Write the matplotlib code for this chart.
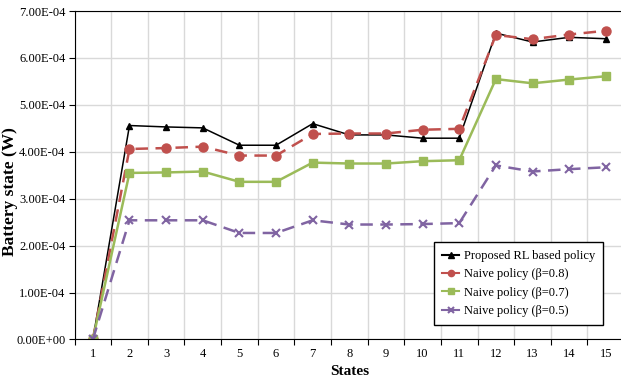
import matplotlib.pyplot as plt
import numpy as np
from matplotlib.ticker import FuncFormatter

plt.rcParams['font.family'] = ['Liberation Serif', 'DejaVu Serif']

states = list(range(1, 16))
rl_policy = [0, 4.56, 4.53, 4.51, 4.14, 4.14, 4.60, 4.36, 4.36, 4.29, 4.29, 6.53, 6.34, 6.44, 6.41]
naive_08 = [0, 4.06, 4.08, 4.11, 3.92, 3.92, 4.38, 4.39, 4.39, 4.47, 4.49, 6.49, 6.40, 6.50, 6.58]
naive_07 = [0, 3.55, 3.56, 3.58, 3.36, 3.36, 3.77, 3.75, 3.75, 3.80, 3.82, 5.55, 5.46, 5.54, 5.61]
naive_05 = [0, 2.54, 2.54, 2.54, 2.27, 2.27, 2.54, 2.45, 2.45, 2.46, 2.48, 3.71, 3.58, 3.63, 3.67]


def sci(v, pos):
    return f"{v:.2E}"


fig = plt.figure(figsize=(6.21, 3.81), dpi=100)
ax = fig.add_axes([0.12, 0.109, 0.885, 0.862])

x = np.array(states)
scale = 1e-4
ax.plot(x, np.array(rl_policy) * scale, '-', color='black', lw=1.1, marker='^', ms=5,
        label='Proposed RL based policy')
ax.plot(x, np.array(naive_08) * scale, '--', color='#C0504D', lw=1.8, marker='o', ms=6.5,
        dashes=(5, 3), label='Naive policy (β=0.8)')
ax.plot(x, np.array(naive_07) * scale, '-', color='#9BBB59', lw=1.8, marker='s', ms=6,
        label='Naive policy (β=0.7)')
ax.plot(x, np.array(naive_05) * scale, '--', color='#8064A2', lw=1.8, marker='x', ms=6,
        mew=1.5, dashes=(5, 3), label='Naive policy (β=0.5)')

ax.set_xlim(0.5, 15.5)
ax.set_ylim(0, 7e-4)
ax.set_yticks(np.arange(0, 8) * 1e-4)
ax.yaxis.set_major_formatter(FuncFormatter(sci))

ax.set_xticks(np.arange(0.5, 16, 1))
ax.set_xticklabels([])
ax.set_xticks(x, minor=True)
ax.set_xticklabels([str(s) for s in states], minor=True)
ax.tick_params(axis='x', which='minor', length=0, pad=6, labelsize=9)
ax.tick_params(axis='x', which='major', length=4, direction='out')
ax.tick_params(axis='y', length=4, direction='out', labelsize=9, pad=2.5)

ax.grid(True, which='major', color='#d9d9d9', lw=1)
ax.set_axisbelow(True)
for side in ['left', 'bottom', 'top']:
    ax.spines[side].set_color('black')
ax.spines['right'].set_visible(False)

ax.set_xlabel('States', fontsize=11, fontweight='bold', labelpad=4)
ax.set_ylabel('Battery state (W)', fontsize=12.5, fontweight='bold')
ax.yaxis.set_label_coords(-0.103, 0.45)

leg = ax.legend(loc='lower right', bbox_to_anchor=(0.9616, 0.044), fontsize=9, fancybox=False,
                edgecolor='black', framealpha=1, handlelength=1.3, handletextpad=0.4,
                borderpad=0.65, labelspacing=0.5, borderaxespad=0)
leg.get_frame().set_linewidth(1)
for h in leg.get_lines():
    h.set_linestyle('-')
    h.set_linewidth(1.5)
    h.set_markersize(4.5)

plt.savefig('out.png', dpi=100)
